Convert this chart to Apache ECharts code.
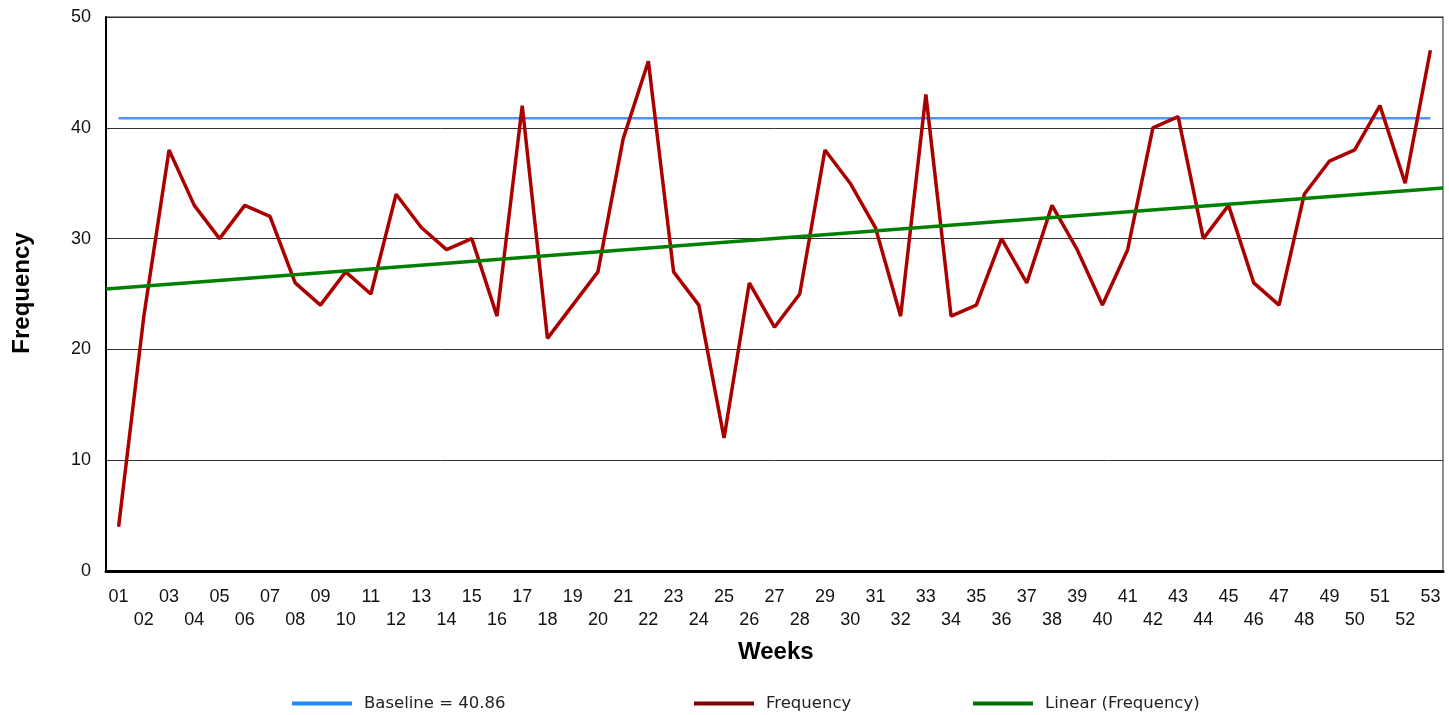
<!DOCTYPE html>
<html>
<head>
<meta charset="utf-8">
<script src="https://cdn.jsdelivr.net/npm/echarts@6/dist/echarts.min.js"></script>
<style>html,body{margin:0;padding:0;background:#fff;}#c{width:1449px;height:715px;}</style>
</head>
<body>
<div id="c"></div>
<script>
var weeks = ['01','02','03','04','05','06','07','08','09','10','11','12','13','14','15','16','17','18','19','20','21','22','23','24','25','26','27','28','29','30','31','32','33','34','35','36','37','38','39','40','41','42','43','44','45','46','47','48','49','50','51','52','53'];
var frequency = [4,23,38,33,30,33,32,26,24,27,25,34,31,29,30,23,42,21,24,27,39,46,27,24,12,26,22,25,38,35,31,23,43,23,24,30,26,33,29,24,29,40,41,30,33,26,24,34,37,38,42,35,47];
var baselineValue = 40.86;
var baselineData = [['01', baselineValue], ['53', baselineValue]];
// trend line end points (at the left and right plot edges, in week units)
var trendData = [[0.5, 25.45], [53.5, 34.57]];
var yTicks = [0, 10, 20, 30, 40, 50];

var chart = echarts.init(document.getElementById('c'));
var legendCommon = {
  top: 695, padding: 0, itemWidth: 60, itemHeight: 4, icon: 'rect',
  textStyle: {fontFamily: 'DejaVu Sans', fontSize: 16.5, color: '#222', padding: [0, 0, 0, 7]},
  selectedMode: false
};
chart.setOption({
  animation: false,
  backgroundColor: '#fff',
  grid: {left: 106, top: 17, right: 6, bottom: 144, show: true, borderColor: '#6b6b6b', borderWidth: 1.5},
  legend: [
    Object.assign({left: 292, data: [{name: 'Baseline = 40.86', itemStyle: {color: '#1e88ff'}}]}, legendCommon),
    Object.assign({left: 694, data: [{name: 'Frequency', itemStyle: {color: '#800000'}}]}, legendCommon),
    Object.assign({left: 973, data: [{name: 'Linear (Frequency)', itemStyle: {color: '#007000'}}]}, legendCommon)
  ],
  xAxis: [{
    type: 'category', data: weeks, boundaryGap: true,
    axisLine: {lineStyle: {color: '#000', width: 3}},
    axisTick: {show: false},
    axisLabel: {
      interval: 0, margin: 15, fontFamily: 'Liberation Sans', fontSize: 18, color: '#111', lineHeight: 23,
      formatter: function (v, i) { return i % 2 === 1 ? '\n' + v : v; }
    },
    splitLine: {show: false}
  }, {
    type: 'value', min: 0.5, max: 53.5, show: false
  }],
  yAxis: {
    type: 'value', min: 0, max: 50, interval: 10,
    axisLine: {show: true, lineStyle: {color: '#000', width: 2}},
    axisTick: {show: false},
    axisLabel: {margin: 15, fontFamily: 'Liberation Sans', fontSize: 18, color: '#111',
      formatter: function (v) { return yTicks.indexOf(v) >= 0 ? String(v) : ''; }},
    splitLine: {lineStyle: {color: '#333', width: 1}}
  },
  graphic: [
    {type: 'text', left: 738, top: 640, style: {text: 'Weeks', font: 'bold 24px "Liberation Sans"', fill: '#000'}},
    {type: 'text', x: 22, y: 293, rotation: Math.PI / 2, style: {text: 'Frequency', font: 'bold 24px "Liberation Sans"', fill: '#000', align: 'center', verticalAlign: 'middle'}}
  ],
  series: [
    {name: 'Baseline = 40.86', type: 'line', data: baselineData, symbol: 'none', lineStyle: {color: '#4d94ff', width: 2.5}, itemStyle: {color: '#4d94ff'}, z: 3},
    {name: 'Frequency', type: 'line', data: frequency, symbol: 'none', lineStyle: {color: '#aa0000', width: 3.5}, itemStyle: {color: '#aa0000'}, z: 4},
    {name: 'Linear (Frequency)', type: 'line', xAxisIndex: 1, data: trendData, symbol: 'none', lineStyle: {color: '#008000', width: 3.5}, itemStyle: {color: '#008000'}, z: 5}
  ]
});
</script>
</body>
</html>
